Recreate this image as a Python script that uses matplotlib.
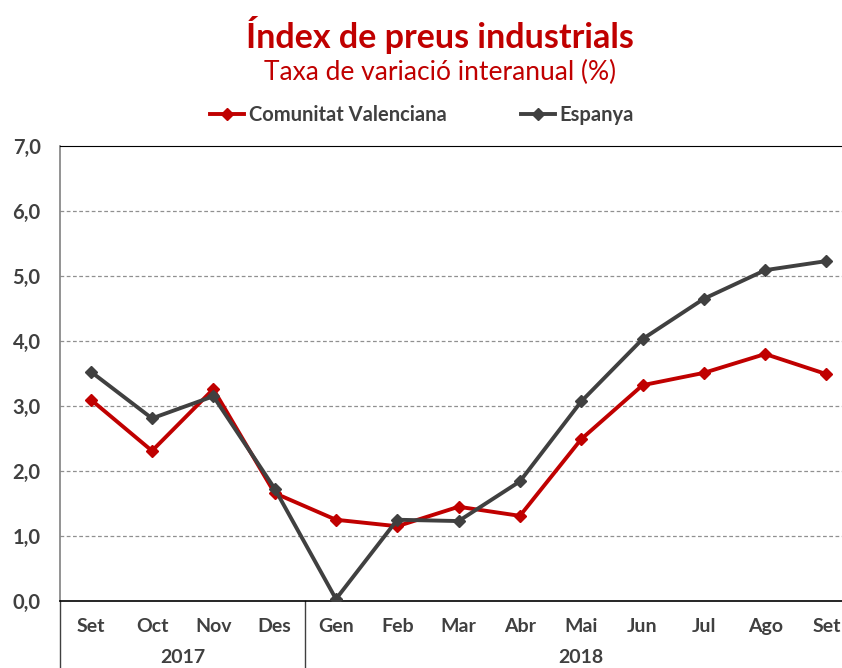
import matplotlib
matplotlib.use("Agg")
import matplotlib.pyplot as plt

plt.rcParams['font.family'] = ['Lato', 'DejaVu Sans']

# Dades (taxa de variació interanual, %)
mesos = ["Set", "Oct", "Nov", "Des", "Gen", "Feb", "Mar", "Abr", "Mai", "Jun", "Jul", "Ago", "Set"]
anys = ["2017", "2018"]
mesos_per_any = [4, 9]
cv = [3.10, 2.31, 3.26, 1.66, 1.25, 1.15, 1.45, 1.31, 2.49, 3.32, 3.51, 3.80, 3.49]
espanya = [3.53, 2.81, 3.15, 1.73, 0.03, 1.25, 1.23, 1.84, 3.07, 4.03, 4.65, 5.09, 5.23]

vermell = "#C00000"
fosc = "#404040"

fig = plt.figure(figsize=(8.42, 6.68), dpi=100)
ax = fig.add_axes([0.0713, 0.1003, 0.9467, 0.6811])

x = list(range(len(mesos)))
ax.plot(x, cv, color=vermell, lw=2.8, marker="D", ms=6, label="Comunitat Valenciana", zorder=3)
ax.plot(x, espanya, color=fosc, lw=2.8, marker="D", ms=6, label="Espanya", zorder=4)

ax.set_xlim(-0.5, len(mesos) - 0.5)
ax.set_ylim(0, 7)
ax.set_yticks(range(0, 8))
ax.set_yticklabels([f"{v},0" for v in range(0, 8)], fontsize=14.5, fontweight="bold", color=fosc)
ax.set_xticks(x)
ax.set_xticklabels(mesos, fontsize=14, fontweight="bold", color=fosc)
ax.tick_params(axis="both", length=0)
ax.tick_params(axis="x", pad=12)
ax.tick_params(axis="y", pad=14)

for v in range(1, 7):
    ax.axhline(v, color="#909090", lw=0.9, ls=(0, (3, 2)), zorder=1)

ax.spines["left"].set_color("#808080")
ax.spines["left"].set_linewidth(1.2)
ax.spines["top"].set_color("black")
ax.spines["bottom"].set_color("black")
ax.spines["bottom"].set_linewidth(1.2)
ax.spines["right"].set_visible(False)

# separadors i etiquetes d'any
trans = ax.get_xaxis_transform()
inici = -0.5
for nom, n in zip(anys, mesos_per_any):
    ax.plot([inici, inici], [0, -0.16], color=fosc, lw=1, transform=trans, clip_on=False)
    ax.text(inici + n / 2, -0.124, nom, transform=trans, ha="center", va="center",
            fontsize=14, fontweight="bold", color=fosc)
    inici += n

fig.text(0.523, 0.948, "Índex de preus industrials", ha="center", va="center",
         fontsize=24.5, fontweight="bold", color=vermell)
fig.text(0.523, 0.891, "Taxa de variació interanual (%)", ha="center", va="center",
         fontsize=19, color=vermell)

fig.legend(loc="center", bbox_to_anchor=(0.501, 0.828), ncol=2, frameon=False,
           prop={"weight": "bold", "size": 14.5}, handlelength=1.7,
           handletextpad=0.2, columnspacing=3.7)
for t in fig.legends[0].get_texts():
    t.set_color(fosc)

fig.savefig("out.png", dpi=100)
